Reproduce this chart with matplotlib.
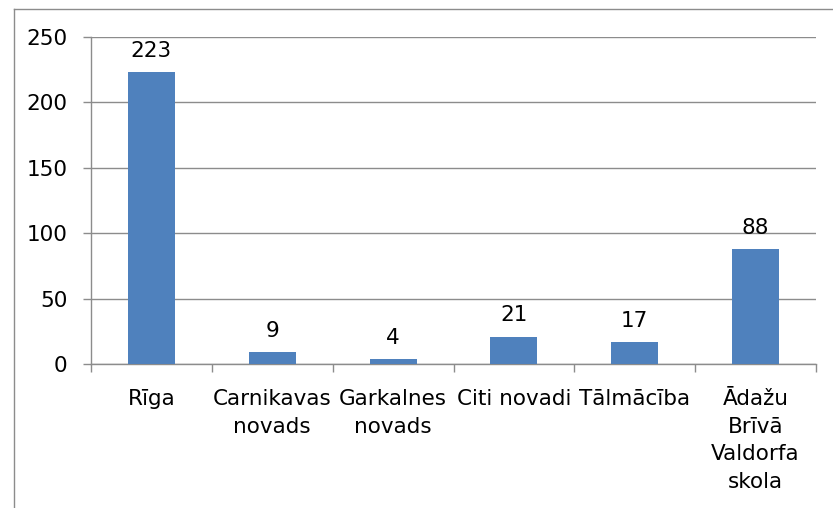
"""Bar chart: number of pupils by origin."""

import matplotlib

matplotlib.use("Agg")
import matplotlib.pyplot as plt
from matplotlib.lines import Line2D

categories = [
    "Rīga",
    "Carnikavas\nnovads",
    "Garkalnes\nnovads",
    "Citi novadi",
    "Tālmācība",
    "Ādažu\nBrīvā\nValdorfa\nskola",
]
values = [223, 9, 4, 21, 17, 88]
y_ticks = [0, 50, 100, 150, 200, 250]

BAR_COLOR = "#4F81BD"
GRID_COLOR = "#8C8C8C"
FS = 15.5

plt.rcParams["font.family"] = ["DejaVu Sans"]

fig = plt.figure(figsize=(8.33, 5.08), dpi=100)
ax = fig.add_axes([91 / 833, 1 - 364 / 508, (816 - 91) / 833, (364 - 37) / 508])

x = list(range(len(categories)))
ax.bar(x, values, width=0.39, color=BAR_COLOR, zorder=3)

for xi, v in zip(x, values):
    ax.annotate(str(v), (xi, v), xytext=(0, 8), textcoords="offset points",
                ha="center", va="bottom", fontsize=FS)

ax.set_xlim(-0.5, len(categories) - 0.5)
ax.set_ylim(0, 250)
ax.set_yticks(y_ticks)
ax.yaxis.grid(True, color=GRID_COLOR, lw=1.0, zorder=0)

# category boundary ticks
ax.set_xticks([i - 0.5 for i in range(len(categories) + 1)])
ax.set_xticklabels([])
ax.set_xticks(x, minor=True)
ax.set_xticklabels(categories, minor=True, fontsize=FS, linespacing=1.47)
ax.tick_params(axis="x", which="minor", length=0, pad=18)
ax.tick_params(axis="x", which="major", length=6, color=GRID_COLOR, width=1.0)
ax.tick_params(axis="y", length=6, color=GRID_COLOR, width=1.0, pad=11,
               labelsize=FS)

for s in ["top", "right"]:
    ax.spines[s].set_visible(False)
for s in ["left", "bottom"]:
    ax.spines[s].set_color(GRID_COLOR)
    ax.spines[s].set_linewidth(1.0)

# outer chart border (extends beyond the image on the right and bottom)
fig.add_artist(Line2D([14 / 833, 1.0], [1 - 9 / 508, 1 - 9 / 508],
                      transform=fig.transFigure, color=GRID_COLOR, lw=1.0))
fig.add_artist(Line2D([14 / 833, 14 / 833], [0.0, 1 - 9 / 508],
                      transform=fig.transFigure, color=GRID_COLOR, lw=1.0))

fig.savefig("out.png", dpi=100)
